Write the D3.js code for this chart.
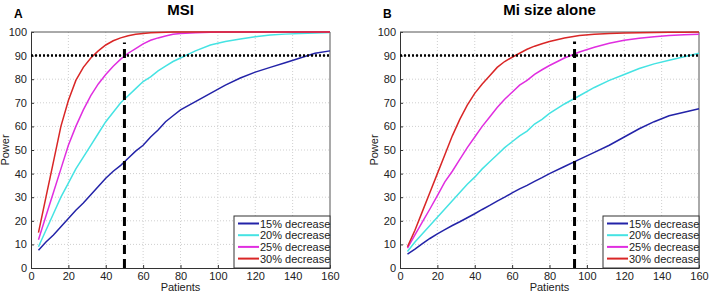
<!DOCTYPE html>
<html>
<head>
<meta charset="utf-8">
<script src="https://cdn.jsdelivr.net/npm/d3@7"></script>
<style>
  body { margin: 0; background: #fff; }
  svg { font-family: "Liberation Sans", Arial, sans-serif; }
</style>
</head>
<body>
<div id="chart-area"></div>
<script>
const patients = [4, 8, 12, 16, 20, 24, 28, 32, 36, 40, 44, 48, 52, 56, 60, 64, 68, 72, 76, 80, 88, 96, 104, 112, 120, 128, 136, 144, 152, 160]

// Panel A - MSI
const msi15 = [7.5, 11, 14, 17.5, 21, 24.5, 27.5, 31, 34.5, 38, 41, 43.5, 46.5, 49.5, 52, 55.5, 58.5, 62, 64.5, 67, 70.5, 74, 77.5, 80.5, 83, 85, 87, 89, 91, 92]
const msi20 = [9, 16, 23, 30, 36, 42, 47, 52, 57, 62, 66, 70, 73, 76, 79, 81, 83.5, 85.5, 87.5, 89, 92, 94.5, 96, 97, 98, 98.7, 99.1, 99.4, 99.6, 99.8]
const msi25 = [12, 22, 32, 42, 52, 60, 67, 73, 78, 82, 85.5, 88.5, 91, 93, 95, 96.5, 97.5, 98.3, 99, 99.4, 99.7, 99.9, 100, 100, 100, 100, 100, 100, 100, 100]
const msi30 = [15, 30, 45, 60, 71, 79.5, 85, 89, 92, 94.5, 96.3, 97.5, 98.4, 99, 99.4, 99.7, 99.8, 99.9, 100, 100, 100, 100, 100, 100, 100, 100, 100, 100, 100, 100]

// Panel B - Mi size alone
const mi15 = [5.9, 8, 10.3, 12.5, 14.5, 16.3, 18, 19.6, 21.3, 23, 24.8, 26.5, 28.3, 30, 31.8, 33.5, 35, 36.7, 38.3, 40, 43, 46, 49, 52, 55.5, 59, 62, 64.5, 66, 67.5]
const mi20 = [7, 11, 14.5, 18, 21.5, 25, 28.5, 32, 35.5, 38.5, 42, 45, 48, 51, 53.5, 56, 58, 61, 63, 65.5, 69.5, 73, 76.5, 79.5, 82, 84.5, 86.5, 88, 89.5, 91]
const mi25 = [8.4, 14, 19.5, 25, 30.7, 36.5, 41, 46, 51, 55.5, 60, 64, 68, 71.5, 74.5, 77.5, 79.5, 82, 84, 85.8, 89, 91.5, 93.5, 95.2, 96.5, 97.4, 98, 98.5, 98.8, 99]
const mi30 = [9, 16, 24, 32, 40, 48, 56, 63, 69, 74, 78, 81.5, 85, 87.5, 89.3, 91, 92.7, 94, 95, 96, 97.5, 98.5, 99, 99.4, 99.6, 99.7, 99.8, 99.9, 99.9, 100]

const seriesNames = ["15% decrease", "20% decrease", "25% decrease", "30% decrease"]
const seriesColors = ["#2323a8", "#45e3e3", "#e02ee0", "#d92626"]
const xTicks = [0, 20, 40, 60, 80, 100, 120, 140, 160]
const yTicks = [0, 10, 20, 30, 40, 50, 60, 70, 80, 90, 100]
const targetPower = 90
const panels = [
    { letter: "A", title: "MSI", series: [msi15, msi20, msi25, msi30], cut: 50, cutTop: 95.5, left: 31, right: 330 },
    { letter: "B", title: "Mi size alone", series: [mi15, mi20, mi25, mi30], cut: 93.4, cutTop: 96, left: 400, right: 699 }
]

const TOP = 32
const BOTTOM = 268

const svg = d3.select("#chart-area").append("svg")
    .attr("width", 709)
    .attr("height", 292)

panels.forEach(p => {
    const x = d3.scaleLinear().domain([0, 160]).range([p.left, p.right])
    const y = d3.scaleLinear().domain([0, 100]).range([BOTTOM, TOP])
    const g = svg.append("g")

    // grid
    g.selectAll(".gx").data(xTicks.slice(1, -1)).enter().append("line")
        .attr("x1", d => x(d)).attr("x2", d => x(d))
        .attr("y1", TOP).attr("y2", BOTTOM)
        .attr("stroke", "#cfcfcf").attr("stroke-width", 1)
        .attr("stroke-dasharray", "1,2")
    g.selectAll(".gy").data(yTicks.slice(1, -1)).enter().append("line")
        .attr("x1", p.left).attr("x2", p.right)
        .attr("y1", d => y(d)).attr("y2", d => y(d))
        .attr("stroke", "#cfcfcf").attr("stroke-width", 1)
        .attr("stroke-dasharray", "1,2")

    // axes
    const xAxis = g.append("g")
        .attr("transform", `translate(0, ${BOTTOM})`)
        .call(d3.axisBottom(x).tickValues(xTicks).tickSizeInner(-3).tickSizeOuter(0).tickPadding(4))
    const yAxis = g.append("g")
        .attr("transform", `translate(${p.left}, 0)`)
        .call(d3.axisLeft(y).tickValues(yTicks).tickSizeInner(-3).tickSizeOuter(0).tickPadding(4))
    ;[xAxis, yAxis].forEach(a => {
        a.select(".domain").attr("stroke", "#333")
        a.selectAll(".tick line").attr("stroke", "#333")
        a.selectAll("text").attr("font-size", "11px").attr("fill", "#222")
            .attr("font-family", "'Liberation Sans', Arial, sans-serif")
    })
    // box top / right
    g.append("line").attr("x1", p.left).attr("x2", p.right).attr("y1", TOP).attr("y2", TOP)
        .attr("stroke", "#555")
    g.append("line").attr("x1", p.right).attr("x2", p.right).attr("y1", TOP).attr("y2", BOTTOM)
        .attr("stroke", "#555")

    // curves
    const line = d3.line().x((d, i) => x(patients[i])).y(d => y(d))
    p.series.forEach((s, i) => {
        g.append("path")
            .datum(s)
            .attr("fill", "none")
            .attr("stroke", seriesColors[i])
            .attr("stroke-width", 1.5)
            .attr("d", line)
    })

    // 90% reference line
    g.append("line")
        .attr("x1", x(0)).attr("x2", x(160))
        .attr("y1", y(targetPower)).attr("y2", y(targetPower))
        .attr("stroke", "#000").attr("stroke-width", 2.5)
        .attr("stroke-dasharray", "2,2")

    // sample size line
    g.append("line")
        .attr("x1", x(p.cut)).attr("x2", x(p.cut))
        .attr("y1", y(0)).attr("y2", y(p.cutTop))
        .attr("stroke", "#000").attr("stroke-width", 3)
        .attr("stroke-dasharray", "9,5")

    // legend
    const lg = g.append("g").attr("transform", `translate(${p.right - 96}, ${BOTTOM - 52})`)
    lg.append("rect")
        .attr("width", 96).attr("height", 52)
        .attr("fill", "#fff").attr("stroke", "#333")
    seriesNames.forEach((name, i) => {
        const yy = 7.5 + i * 11.7
        lg.append("line")
            .attr("x1", 4).attr("x2", 25)
            .attr("y1", yy).attr("y2", yy)
            .attr("stroke", seriesColors[i]).attr("stroke-width", 2)
        lg.append("text")
            .attr("x", 26).attr("y", yy + 4)
            .attr("font-size", "11px").attr("fill", "#222")
            .text(name)
    })

    // titles and labels
    g.append("text")
        .attr("x", (p.left + p.right) / 2).attr("y", 15)
        .attr("text-anchor", "middle")
        .attr("font-size", "15px").attr("font-weight", "bold")
        .text(p.title)
    g.append("text")
        .attr("x", p.left - 17).attr("y", 18)
        .attr("font-size", "12px").attr("font-weight", "bold")
        .text(p.letter)
    g.append("text")
        .attr("x", (p.left + p.right) / 2).attr("y", 291)
        .attr("text-anchor", "middle")
        .attr("font-size", "11px").attr("fill", "#222")
        .text("Patients")
    g.append("text")
        .attr("transform", `translate(${p.left - 22}, ${(TOP + BOTTOM) / 2}) rotate(-90)`)
        .attr("text-anchor", "middle")
        .attr("font-size", "11px").attr("fill", "#222")
        .text("Power")
})
</script>
</body>
</html>
